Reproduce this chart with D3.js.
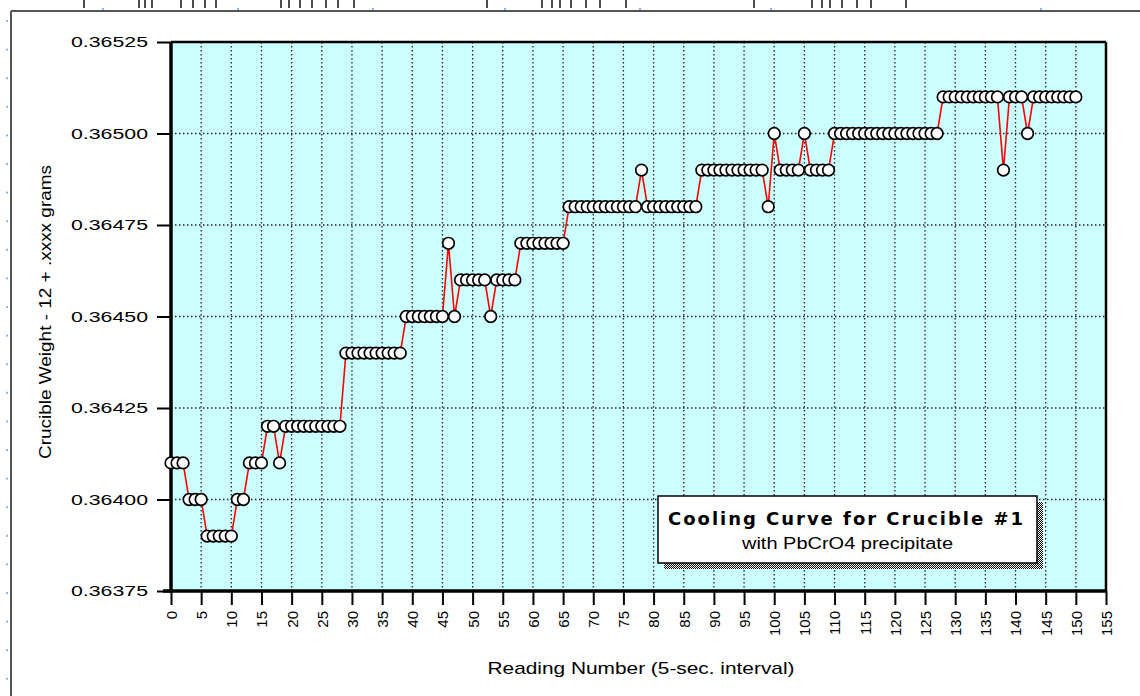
<!DOCTYPE html>
<html>
<head>
<meta charset="utf-8">
<script src="https://cdn.jsdelivr.net/npm/d3@7"></script>
<style>
  body { margin: 0; background: #fff; }
  text { font-family: "Liberation Sans", Arial, sans-serif; fill: #000; }
</style>
</head>
<body>
<div id="chart"></div>
<script>
// data: one weight per reading (reading number = position)
const weights = [
  0.36410, 0.36410, 0.36410, 0.36400, 0.36400, 0.36400, 0.36390, 0.36390, 0.36390, 0.36390,
  0.36390, 0.36400, 0.36400, 0.36410, 0.36410, 0.36410, 0.36420, 0.36420, 0.36410, 0.36420,
  0.36420, 0.36420, 0.36420, 0.36420, 0.36420, 0.36420, 0.36420, 0.36420, 0.36420, 0.36440,
  0.36440, 0.36440, 0.36440, 0.36440, 0.36440, 0.36440, 0.36440, 0.36440, 0.36440, 0.36450,
  0.36450, 0.36450, 0.36450, 0.36450, 0.36450, 0.36450, 0.36470, 0.36450, 0.36460, 0.36460,
  0.36460, 0.36460, 0.36460, 0.36450, 0.36460, 0.36460, 0.36460, 0.36460, 0.36470, 0.36470,
  0.36470, 0.36470, 0.36470, 0.36470, 0.36470, 0.36470, 0.36480, 0.36480, 0.36480, 0.36480,
  0.36480, 0.36480, 0.36480, 0.36480, 0.36480, 0.36480, 0.36480, 0.36480, 0.36490, 0.36480,
  0.36480, 0.36480, 0.36480, 0.36480, 0.36480, 0.36480, 0.36480, 0.36480, 0.36490, 0.36490,
  0.36490, 0.36490, 0.36490, 0.36490, 0.36490, 0.36490, 0.36490, 0.36490, 0.36490, 0.36480,
  0.36500, 0.36490, 0.36490, 0.36490, 0.36490, 0.36500, 0.36490, 0.36490, 0.36490, 0.36490,
  0.36500, 0.36500, 0.36500, 0.36500, 0.36500, 0.36500, 0.36500, 0.36500, 0.36500, 0.36500,
  0.36500, 0.36500, 0.36500, 0.36500, 0.36500, 0.36500, 0.36500, 0.36500, 0.36510, 0.36510,
  0.36510, 0.36510, 0.36510, 0.36510, 0.36510, 0.36510, 0.36510, 0.36510, 0.36490, 0.36510,
  0.36510, 0.36510, 0.36500, 0.36510, 0.36510, 0.36510, 0.36510, 0.36510, 0.36510, 0.36510,
  0.36510
];

const xTicks = [0, 5, 10, 15, 20, 25, 30, 35, 40, 45, 50, 55, 60, 65, 70, 75, 80,
  85, 90, 95, 100, 105, 110, 115, 120, 125, 130, 135, 140, 145, 150, 155];
const yTicks = [0.36375, 0.36400, 0.36425, 0.36450, 0.36475, 0.36500, 0.36525];

const xTitle = "Reading Number (5-sec. interval)";
const yTitle = "Crucible Weight - 12 + .xxxx grams";
const boxTitle = "Cooling Curve for Crucible #1";
const boxSub = "with PbCrO4 precipitate";

// plot box inside the 1140 x 696 window
const margin = { top: 42, right: 34, bottom: 105, left: 171 };
const W = 1140, H = 696;
const width = W - margin.left - margin.right;
const height = H - margin.top - margin.bottom;

const svg = d3.select("#chart")
  .append("svg")
    .attr("width", W)
    .attr("height", H);

// spreadsheet window frame around the chart
svg.append("line").attr("x1", 11).attr("x2", W).attr("y1", 11).attr("y2", 11)
  .attr("stroke", "#555").attr("stroke-width", 2);
svg.append("line").attr("x1", 11).attr("x2", 11).attr("y1", 11).attr("y2", H)
  .attr("stroke", "#555").attr("stroke-width", 2);
svg.append("g").selectAll("rect")
  .data(d3.range(20, H, 28.6))
  .join("rect")
    .attr("x", 6).attr("y", d => d).attr("width", 2).attr("height", 2)
    .attr("fill", "#8fb0ff");

// cut-off remains of the sheet above the chart (just stroke stubs)
const stubs = [84, 139, 145, 152, 181, 193, 205, 216, 281, 289, 300, 312, 326, 338, 354,
  487, 542, 552, 560, 571, 586, 600, 626, 754, 812, 822, 830, 842, 857, 871, 906];
svg.append("g").selectAll("line")
  .data(stubs)
  .join("line")
    .attr("x1", d => d).attr("x2", d => d)
    .attr("y1", 0).attr("y2", 8)
    .attr("stroke", "#111").attr("stroke-width", 1.5);
svg.append("g").selectAll("rect")
  .data([102, 237, 372, 504, 639, 770, 1040])
  .join("rect")
    .attr("x", d => d).attr("y", 8).attr("width", 2).attr("height", 2)
    .attr("fill", "#8fb0ff");

const g = svg.append("g")
  .attr("transform", `translate(${margin.left},${margin.top})`);

// scales
const x = d3.scaleLinear().domain([0, 155]).range([0, width]);
const y = d3.scaleLinear().domain([0.36375, 0.36525]).range([height, 0]);

// plot background
g.append("rect")
  .attr("width", width).attr("height", height)
  .attr("fill", "#ccffff");

// dotted grid
g.append("g").selectAll("line")
  .data(xTicks.filter(d => d > 0 && d < 155))
  .join("line")
    .attr("x1", d => x(d)).attr("x2", d => x(d))
    .attr("y1", 0).attr("y2", height)
    .attr("stroke", "#222").attr("stroke-width", 1.3)
    .attr("stroke-dasharray", "1.5,2.5");
g.append("g").selectAll("line")
  .data(yTicks.filter(d => d > 0.36375 && d < 0.36525))
  .join("line")
    .attr("x1", 0).attr("x2", width)
    .attr("y1", d => y(d)).attr("y2", d => y(d))
    .attr("stroke", "#222").attr("stroke-width", 1.3)
    .attr("stroke-dasharray", "1.5,2.5");

// axes
const xAxis = g.append("g")
  .attr("transform", `translate(0,${height})`)
  .call(d3.axisBottom(x).tickValues(xTicks).tickSize(14).tickFormat(d3.format("d")));
xAxis.select(".domain").remove();
xAxis.selectAll("line").attr("stroke", "#000").attr("stroke-width", 2);
xAxis.selectAll("text")
  .attr("transform", "translate(0,20) rotate(-90)")
  .attr("x", 0).attr("y", 0).attr("dy", "0.36em")
  .style("text-anchor", "end")
  .style("font-size", "15px");

const yAxis = g.append("g")
  .call(d3.axisLeft(y).tickValues(yTicks).tickSize(14).tickFormat(d3.format(".5f")));
yAxis.select(".domain").remove();
yAxis.selectAll("line").attr("stroke", "#000").attr("stroke-width", 2);
yAxis.selectAll("text")
  .attr("x", -23)
  .style("font-size", "15px")
  .attr("textLength", 77)
  .attr("lengthAdjust", "spacingAndGlyphs");

// plot frame
g.append("line").attr("x1", 0).attr("x2", width).attr("y1", 0).attr("y2", 0)
  .attr("stroke", "#000").attr("stroke-width", 2.5);
g.append("line").attr("x1", width).attr("x2", width).attr("y1", 0).attr("y2", height)
  .attr("stroke", "#000").attr("stroke-width", 2.5);
g.append("line").attr("x1", 0).attr("x2", 0).attr("y1", 0).attr("y2", height + 1.5)
  .attr("stroke", "#000").attr("stroke-width", 3.5);
g.append("line").attr("x1", -8).attr("x2", width + 1).attr("y1", height).attr("y2", height)
  .attr("stroke", "#000").attr("stroke-width", 3.5);

// the red line
g.append("path")
  .datum(weights)
  .attr("d", d3.line()
    .x((d, i) => x(i))
    .y(d => y(d)))
  .attr("fill", "none")
  .attr("stroke", "#ff0000")
  .attr("stroke-width", 1.6);

// open circle markers, drawn left to right so each one covers the last
g.append("g").selectAll("circle")
  .data(weights)
  .join("circle")
    .attr("cx", (d, i) => x(i))
    .attr("cy", d => y(d))
    .attr("r", 5.8)
    .attr("fill", "#fff")
    .attr("stroke", "#000")
    .attr("stroke-width", 1.7);

// label box with dithered shadow
const defs = svg.append("defs");
const pat = defs.append("pattern").attr("id", "dither")
  .attr("width", 2).attr("height", 2).attr("patternUnits", "userSpaceOnUse");
pat.append("rect").attr("width", 2).attr("height", 2).attr("fill", "#fff");
pat.append("rect").attr("width", 1).attr("height", 1).attr("fill", "#000");
pat.append("rect").attr("x", 1).attr("y", 1).attr("width", 1).attr("height", 1).attr("fill", "#000");

const bx = 658 - margin.left, by = 496 - margin.top, bw = 379, bh = 67;
g.append("rect")
  .attr("x", bx + 6).attr("y", by + 6).attr("width", bw).attr("height", bh)
  .attr("fill", "url(#dither)");
g.append("rect")
  .attr("x", bx).attr("y", by).attr("width", bw).attr("height", bh)
  .attr("fill", "#fff").attr("stroke", "#000").attr("stroke-width", 1.5);
g.append("text")
  .attr("x", bx + 10).attr("y", by + 29)
  .style("font-family", "'DejaVu Sans', sans-serif")
  .style("font-weight", "bold")
  .style("font-size", "18px")
  .attr("textLength", 355)
  .attr("lengthAdjust", "spacing")
  .text(boxTitle);
g.append("text")
  .attr("x", bx + bw / 2).attr("y", by + 53)
  .style("text-anchor", "middle")
  .style("font-size", "16px")
  .attr("textLength", 211)
  .attr("lengthAdjust", "spacingAndGlyphs")
  .text(boxSub);

// axis titles
svg.append("text")
  .attr("x", 641).attr("y", 674)
  .style("text-anchor", "middle")
  .style("font-size", "17px")
  .attr("textLength", 307)
  .attr("lengthAdjust", "spacingAndGlyphs")
  .text(xTitle);

svg.append("text")
  .attr("transform", "translate(51,312) rotate(-90)")
  .style("text-anchor", "middle")
  .style("font-size", "16px")
  .attr("textLength", 294)
  .attr("lengthAdjust", "spacingAndGlyphs")
  .text(yTitle);
</script>
</body>
</html>
